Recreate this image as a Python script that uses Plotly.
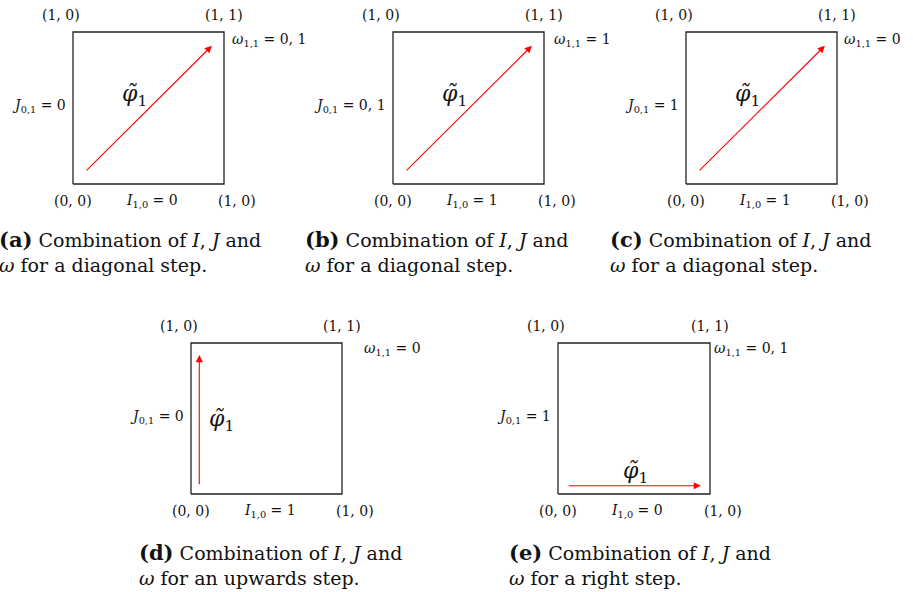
import plotly.graph_objects as go

W, H = 913, 592

# ---- data ----
panel_letters = ["a", "b", "c", "d", "e"]
I_values = ["0", "1", "1", "1", "0"]
J_values = ["0", "0, 1", "1", "0", "1"]
omega_values = ["0, 1", "1", "0", "0", "0, 1"]
step_kinds = ["diagonal", "diagonal", "diagonal", "upwards", "right"]
step_phrases = ["a diagonal step", "a diagonal step", "a diagonal step",
                "an upwards step", "a right step"]
corner_labels = ["(1, 0)", "(1, 1)", "(0, 0)", "(1, 0)"]  # TL, TR, BL, BR
square_x = [0, 1, 1, 0, 0]
square_y = [0, 0, 1, 1, 0]
step_tail = {"diagonal": (0.08, 0.08), "upwards": (0.055, 0.055), "right": (0.06, 0.055)}
step_head = {"diagonal": (0.92, 0.91), "upwards": (0.055, 0.92), "right": (0.94, 0.055)}

# ---- layout (pixels / unit-square offsets) ----
box_px = [(73, 32, 224, 184), (393, 32, 544, 184), (686, 32, 837, 184),
          (191, 343, 342, 494), (558, 343, 710, 494)]
caption_px = [(-3, 251), (303, 251), (608, 251), (137, 564), (507, 564)]
omega_x = [1.04, 1.05, 1.03, 1.13, 1.01]
omega_y = [0.95, 0.95, 0.95, 0.96, 0.96]
phi_pos = {"diagonal": (0.41, 0.585), "upwards": (0.2, 0.49), "right": (0.51, 0.14)}
PAD = 0.2
FONT = "DejaVu Serif"
SMALL = 14

fig = go.Figure()
annotations = []
layout_axes = {}

for i, letter in enumerate(panel_letters):
    n = i + 1
    xs = "" if n == 1 else str(n)
    xref, yref = "x" + xs, "y" + xs
    x0, y0, x1, y1 = box_px[i]
    w, h = x1 - x0, y1 - y0
    dom_x = [(x0 - PAD * w) / W, (x1 + PAD * w) / W]
    dom_y = [1 - (y1 + PAD * h) / H, 1 - (y0 - PAD * h) / H]
    ax_common = dict(showgrid=False, zeroline=False, showticklabels=False,
                     ticks="", showline=False, fixedrange=True,
                     range=[-PAD, 1 + PAD])
    layout_axes["xaxis" + xs] = dict(domain=dom_x, anchor=yref, **ax_common)
    layout_axes["yaxis" + xs] = dict(domain=dom_y, anchor=xref, **ax_common)

    fig.add_trace(go.Scatter(x=square_x, y=square_y, mode="lines",
                             line=dict(color="#222222", width=1.3),
                             xaxis=xref, yaxis=yref, hoverinfo="skip",
                             showlegend=False))

    kind = step_kinds[i]
    tx, ty = step_tail[kind]
    hx, hy = step_head[kind]
    annotations.append(dict(x=hx, y=hy, ax=tx, ay=ty, xref=xref, yref=yref,
                            axref=xref, ayref=yref, showarrow=True,
                            arrowhead=2, arrowsize=1.3, arrowwidth=1.1,
                            arrowcolor="#ff0000", text=""))

    def lab(text, x, y, xanchor="center", size=SMALL, xshift=0, yshift=0):
        annotations.append(dict(x=x, y=y, xref=xref, yref=yref, text=text,
                                showarrow=False, xanchor=xanchor,
                                yanchor="middle", xshift=xshift, yshift=yshift,
                                font=dict(family=FONT, size=size, color="#111")))

    lab(corner_labels[0], -0.08, 1.11)
    lab(corner_labels[1], 1.0, 1.11)
    lab(corner_labels[2], 0.0, -0.11)
    lab(corner_labels[3], 1.085, -0.11)
    lab("<i>I</i><sub>1,0</sub> = " + I_values[i], 0.52, -0.11)
    lab("<i>J</i><sub>0,1</sub> = " + J_values[i], -0.035, 0.51, xanchor="right")
    lab("<i>ω</i><sub>1,1</sub> = " + omega_values[i], omega_x[i], omega_y[i],
        xanchor="left")
    px_, py_ = phi_pos[kind]
    lab("<i>φ\u0303</i><sub>1</sub>", px_, py_, size=22)

    cx, cy = caption_px[i]
    annotations.append(dict(
        x=cx / W, y=1 - cy / H, xref="paper", yref="paper",
        xanchor="left", yanchor="middle", align="left", showarrow=False,
        text=("<span style='font-size:21px'><b>(" + letter + ")</b></span> "
              "Combination of <i>I</i>, <i>J</i> and<br>"
              "<i>ω</i> for " + step_phrases[i] + "."),
        font=dict(family=FONT, size=19, color="#111")))

fig.update_layout(width=W, height=H, margin=dict(l=0, r=0, t=0, b=0),
                  paper_bgcolor="white", plot_bgcolor="white",
                  showlegend=False, annotations=annotations, **layout_axes)

fig.write_html("out.html", config={"displayModeBar": False},
               post_script="document.body.style.margin='0';"
                           "document.body.style.overflow='hidden';")
